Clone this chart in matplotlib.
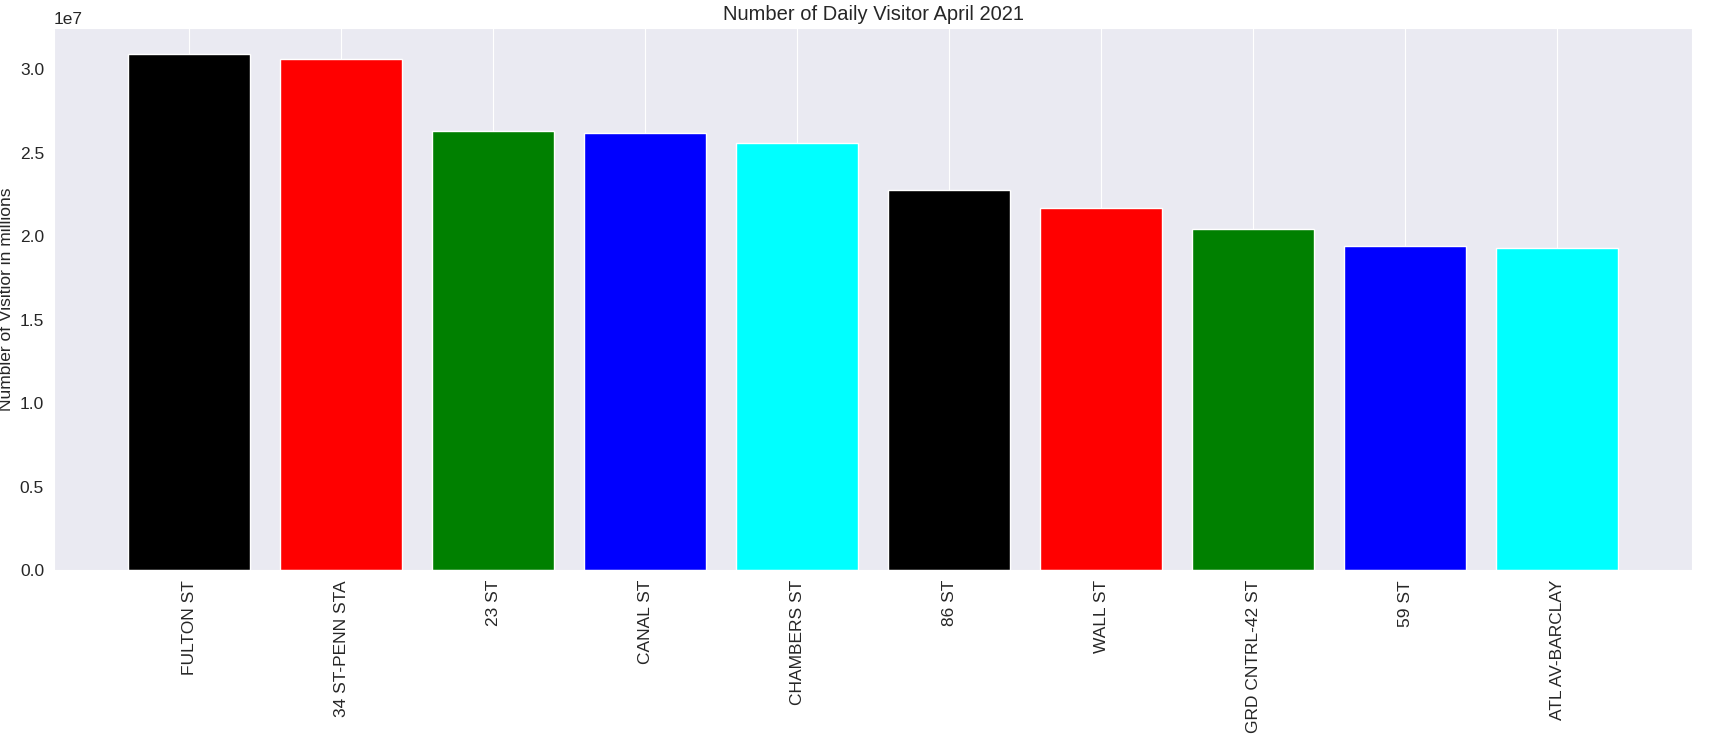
import matplotlib
matplotlib.use("Agg")
import matplotlib.pyplot as plt
import seaborn as sns

stations = ["FULTON ST", "34 ST-PENN STA", "23 ST", "CANAL ST", "CHAMBERS ST",
            "86 ST", "WALL ST", "GRD CNTRL-42 ST", "59 ST", "ATL AV-BARCLAY"]
visitors = [3.093e7, 3.060e7, 2.630e7, 2.617e7, 2.558e7,
            2.280e7, 2.168e7, 2.042e7, 1.943e7, 1.930e7]
colors = ["black", "red", "green", "blue", "cyan"] * 2

sns.set_style("darkgrid")
plt.rcParams["font.family"] = ["Liberation Sans", "DejaVu Sans"]
fig, ax = plt.subplots(figsize=(17.34, 7.35), dpi=100)
fig.subplots_adjust(left=0.031, right=0.976, top=0.962, bottom=0.224)

ax.bar(stations, visitors, color=colors)
ax.yaxis.grid(False)
ax.tick_params(axis="both", labelsize=12.5)
ax.yaxis.get_offset_text().set_fontsize(12.5)
plt.xticks(rotation=90)
ax.set_title("Number of Daily Visitor April 2021", fontsize=14.5)
ax.set_xlabel("Station Name", fontsize=12.5)
ax.set_ylabel("Numbler of Visitior in millions", fontsize=12.5)

fig.savefig("out.png", dpi=100)
